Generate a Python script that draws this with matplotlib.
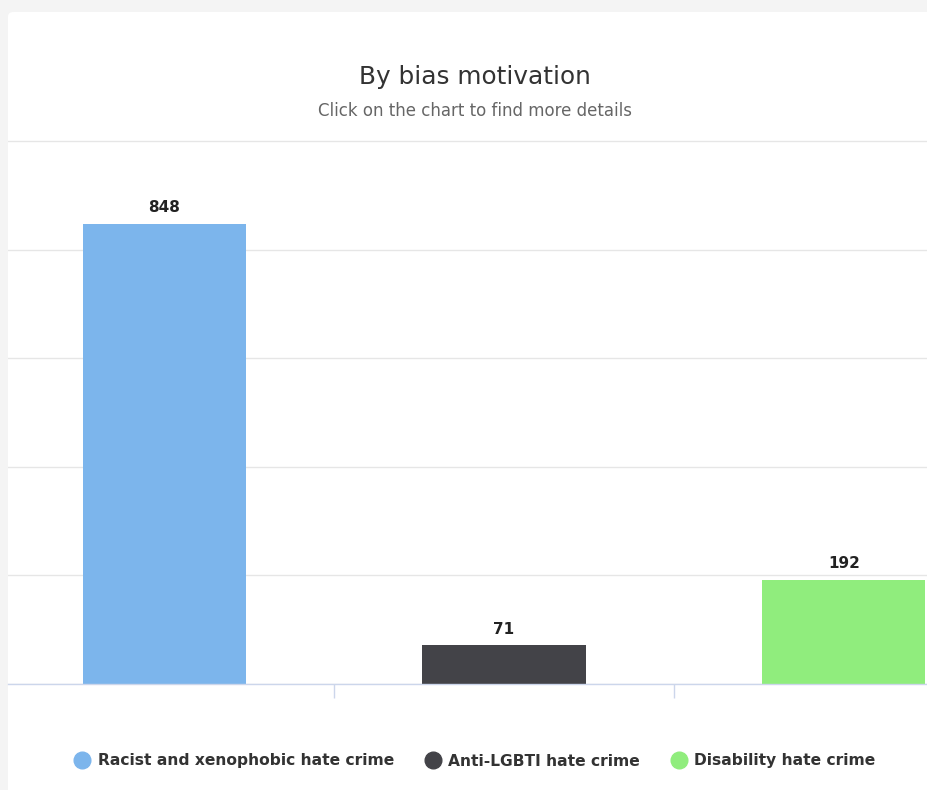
import matplotlib
matplotlib.use("Agg")
import matplotlib.pyplot as plt
from matplotlib.lines import Line2D
from matplotlib.patches import FancyBboxPatch

# data
categories = ["Racist and xenophobic hate crime", "Anti-LGBTI hate crime", "Disability hate crime"]
values = [848, 71, 192]
colors = ["#7cb5ec", "#434348", "#90ed7d"]
y_ticks = [0, 200, 400, 600, 800, 1000]

W, H = 927, 790
fig = plt.figure(figsize=(W / 100, H / 100), dpi=100)
fig.patch.set_facecolor("#f4f4f4")

# white card behind the chart
card = FancyBboxPatch((8 / W, -0.05), 1.0, (H - 12) / H + 0.05,
                      boxstyle="round,pad=0,rounding_size=0.006",
                      transform=fig.transFigure, facecolor="white",
                      edgecolor="none", zorder=-1)
fig.patches.append(card)

ax = fig.add_axes([8 / W, 106 / H, (W - 8) / W, 551 / H])
ax.set_facecolor("none")
ax.set_zorder(2)

x = list(range(len(values)))
ax.bar(x, values, width=0.48, color=colors, zorder=3)
for xi, v in zip(x, values):
    ax.annotate(str(v), (xi, v), xytext=(0, 6), textcoords="offset points",
                ha="center", va="bottom", fontsize=11, fontweight="bold",
                color="#222222", zorder=4)

ax.set_xlim(-0.46, 2.245)
ax.set_ylim(0, 1015)
ax.set_yticks(y_ticks)
ax.set_yticklabels([])
ax.tick_params(axis="y", length=0)
ax.grid(axis="y", color="#e6e6e6", linewidth=1, zorder=0)

ax.set_xticks([0.5, 1.5])
ax.set_xticklabels([])
ax.tick_params(axis="x", length=10, width=1, color="#ccd6eb", direction="out")

for s in ["top", "left", "right"]:
    ax.spines[s].set_visible(False)
ax.spines["bottom"].set_color("#ccd6eb")
ax.spines["bottom"].set_linewidth(1)
ax.spines["bottom"].set_zorder(5)

cx = 475 / W
fig.text(cx, (H - 77) / H, "By bias motivation", ha="center", va="center",
         fontsize=17.8, color="#333333", zorder=3)
fig.text(cx, (H - 111) / H, "Click on the chart to find more details",
         ha="center", va="center", fontsize=12, color="#666666", zorder=3)

handles = [Line2D([], [], marker="o", linestyle="none", markersize=12,
                  markerfacecolor=c, markeredgecolor=c) for c in colors]
leg = fig.legend(handles, categories, loc="center", ncol=3,
                 bbox_to_anchor=(cx, (H - 761) / H), frameon=False,
                 handletextpad=0.5, columnspacing=2.0, handlelength=1.0,
                 prop={"size": 11.2, "weight": "bold"})
leg.set_zorder(3)
for t in leg.get_texts():
    t.set_color("#333333")

fig.savefig("out.png", dpi=100, facecolor=fig.get_facecolor())
